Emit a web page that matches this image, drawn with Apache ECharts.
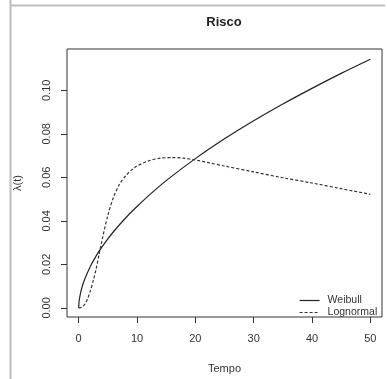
<!DOCTYPE html>
<html>
<head>
<meta charset="utf-8">
<script src="https://cdn.jsdelivr.net/npm/echarts@6/dist/echarts.min.js"></script>
<style>
html,body{margin:0;padding:0;background:#fff;}
#chart{width:387px;height:379px;}
</style>
</head>
<body>
<div id="chart"></div>
<script>
var titleText = "Risco";
var xName = "Tempo";
var yName = "λ(t)";
var seriesNames = ["Weibull", "Lognormal"];
var xTicks = [0, 10, 20, 30, 40, 50];
var yTicks = [0, 0.02, 0.04, 0.06, 0.08, 0.10];

var weibullT = [0, 0.1, 0.5, 1, 2, 3, 4, 5, 6, 8, 10, 12, 15, 20, 25, 30, 35, 40, 45, 50];
var weibullH = [0, 0.0036, 0.0088, 0.0129, 0.0190, 0.0239, 0.0280, 0.0317, 0.0351, 0.0412, 0.0466, 0.0516, 0.0585, 0.0686, 0.0777, 0.0860, 0.0937, 0.1009, 0.1078, 0.1143];

var lognormT = [0, 0.5, 1, 1.5, 2, 2.5, 3, 3.5, 4, 5, 6, 7, 8, 9, 10, 12, 14, 16, 18, 20, 22, 25, 30, 35, 40, 45, 50];
var lognormH = [0, 0.0003, 0.0015, 0.0040, 0.0078, 0.0125, 0.0180, 0.0245, 0.0310, 0.0425, 0.0510, 0.0568, 0.0605, 0.0632, 0.0652, 0.0676, 0.0688, 0.0691, 0.0688, 0.0680, 0.0669, 0.0652, 0.0625, 0.0598, 0.0574, 0.0548, 0.0522];

function pairs(xs, ys) { return xs.map(function (x, i) { return [x, ys[i]]; }); }

var FONT = "Liberation Sans, Arial, sans-serif";
var chart = echarts.init(document.getElementById('chart'), null, {renderer: 'canvas'});
chart.setOption({
  animation: false,
  backgroundColor: '#fff',
  textStyle: {fontFamily: FONT},
  grid: {left: 67, right: 5, top: 49, bottom: 57, show: true, borderColor: '#333', borderWidth: 1, backgroundColor: 'transparent'},
  graphic: [
    {type: 'line', shape: {x1: 10.5, y1: 0, x2: 10.5, y2: 379}, style: {stroke: '#bdbdbd', lineWidth: 2}},
    {type: 'line', shape: {x1: 10, y1: 5.5, x2: 385, y2: 5.5}, style: {stroke: '#bdbdbd', lineWidth: 2}},
    {type: 'text', x: 224, y: 22, style: {text: titleText, fill: '#222', font: 'bold 13px ' + FONT, textAlign: 'center', textVerticalAlign: 'middle'}}
  ],
  legend: {
    orient: 'vertical', left: 294, top: 290, itemWidth: 20, itemHeight: 9, itemGap: 1,
    itemStyle: {opacity: 0},
    lineStyle: {width: 1.2},
    textStyle: {fontSize: 10.5, color: '#333', fontFamily: FONT, padding: [0, 0, 0, 3]},
    data: seriesNames,
    selectedMode: false
  },
  xAxis: {
    type: 'value', min: -2, max: 52,
    name: xName, nameLocation: 'middle', nameGap: 46,
    nameTextStyle: {fontSize: 11, color: '#333', fontFamily: FONT},
    axisLine: {show: false, onZero: false},
    splitLine: {show: false},
    axisTick: {show: true, inside: false, length: 6, customValues: xTicks, lineStyle: {color: '#333'}},
    axisLabel: {customValues: xTicks, margin: 16, fontSize: 11, color: '#333', fontFamily: FONT}
  },
  yAxis: {
    type: 'value', min: -0.0042, max: 0.119,
    name: yName, nameLocation: 'middle', nameGap: 44, nameRotate: 90,
    nameTextStyle: {fontSize: 11, color: '#333', fontFamily: FONT},
    axisLine: {show: false, onZero: false},
    splitLine: {show: false},
    axisTick: {show: true, inside: false, length: 6, customValues: yTicks, lineStyle: {color: '#333'}},
    axisLabel: {customValues: yTicks, margin: 15, rotate: 90, fontSize: 11, color: '#333', fontFamily: FONT,
      formatter: function (v) { return v.toFixed(2); }}
  },
  series: [
    {name: seriesNames[0], type: 'line', data: pairs(weibullT, weibullH), showSymbol: false, symbol: 'none', smooth: 0.3,
      lineStyle: {color: '#222', width: 1.2, type: 'solid'}, itemStyle: {color: '#222'}},
    {name: seriesNames[1], type: 'line', data: pairs(lognormT, lognormH), showSymbol: false, symbol: 'none', smooth: 0.3,
      lineStyle: {color: '#333', width: 1.2, type: [3, 2]}, itemStyle: {color: '#333'}}
  ]
});
</script>
</body>
</html>
